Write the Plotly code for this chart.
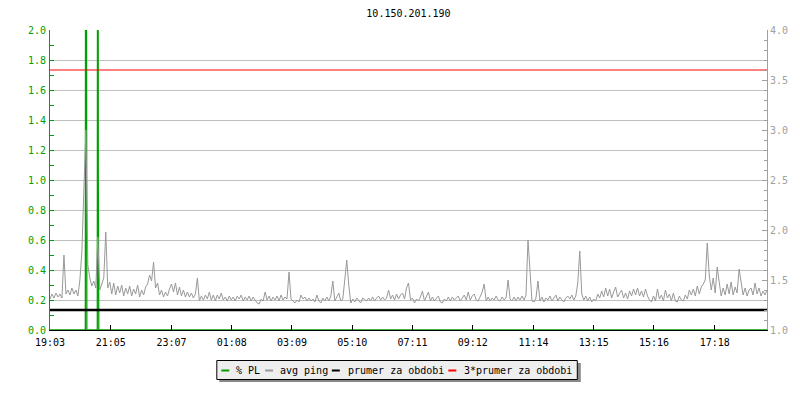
import plotly.graph_objects as go

# ---------------- data ----------------
title_text = "10.150.201.190"
start_label = "19:03"
sample_step_min = 4  # minutes between avg ping samples
span_min = 1440

tick_labels = ["19:03", "21:05", "23:07", "01:08", "03:09", "05:10",
               "07:11", "09:12", "11:14", "13:15", "15:16", "17:18"]

avg_ping = [
    1.31, 1.36, 1.32, 1.37, 1.33, 1.36, 1.32, 1.75, 1.36, 1.40,
    1.35, 1.42, 1.36, 1.40, 1.34, 1.50, 1.78, 2.45, 3.00, 1.65,
    1.52, 1.44, 1.49, 1.42, 1.93, 1.40, 1.47, 1.52, 1.98, 1.42,
    1.48, 1.36, 1.47, 1.35, 1.44, 1.37, 1.45, 1.34, 1.42, 1.36,
    1.44, 1.34, 1.41, 1.36, 1.45, 1.33, 1.40, 1.35, 1.43, 1.46,
    1.55, 1.49, 1.68, 1.42, 1.47, 1.35, 1.40, 1.33, 1.38, 1.34,
    1.41, 1.46, 1.38, 1.47, 1.35, 1.43, 1.34, 1.40, 1.33, 1.38,
    1.33, 1.37, 1.32, 1.36, 1.52, 1.29, 1.34, 1.30, 1.35, 1.31,
    1.38, 1.30, 1.35, 1.29, 1.35, 1.31, 1.37, 1.30, 1.33, 1.29,
    1.34, 1.30, 1.33, 1.29, 1.34, 1.31, 1.35, 1.29, 1.33, 1.30,
    1.34, 1.29, 1.33, 1.30, 1.27, 1.26, 1.31, 1.29, 1.38, 1.30,
    1.34, 1.29, 1.33, 1.30, 1.34, 1.29, 1.35, 1.30, 1.33, 1.31,
    1.58, 1.31, 1.29, 1.27, 1.30, 1.28, 1.35, 1.31, 1.33, 1.29,
    1.32, 1.29, 1.31, 1.28, 1.35, 1.29, 1.27, 1.32, 1.29, 1.33,
    1.29, 1.34, 1.49, 1.29, 1.33, 1.37, 1.29, 1.31, 1.50, 1.70,
    1.45, 1.27, 1.31, 1.28, 1.32, 1.29, 1.27, 1.32, 1.30, 1.29,
    1.32, 1.29, 1.33, 1.29, 1.32, 1.34, 1.30, 1.33, 1.30, 1.32,
    1.40, 1.31, 1.35, 1.30, 1.36, 1.31, 1.35, 1.37, 1.31, 1.42,
    1.47, 1.30, 1.32, 1.27, 1.31, 1.29, 1.33, 1.39, 1.29, 1.33,
    1.38, 1.29, 1.33, 1.29, 1.32, 1.34, 1.28, 1.27, 1.31, 1.29,
    1.33, 1.29, 1.33, 1.30, 1.32, 1.34, 1.29, 1.32, 1.35, 1.30,
    1.38, 1.30, 1.34, 1.36, 1.30, 1.29, 1.33, 1.38, 1.46, 1.29,
    1.33, 1.29, 1.32, 1.30, 1.34, 1.30, 1.29, 1.33, 1.30, 1.32,
    1.50, 1.31, 1.29, 1.33, 1.29, 1.33, 1.30, 1.34, 1.30, 1.35,
    1.90, 1.55, 1.29, 1.28, 1.32, 1.49, 1.29, 1.33, 1.28, 1.32,
    1.30, 1.34, 1.29, 1.32, 1.35, 1.29, 1.33, 1.30, 1.28, 1.32,
    1.34, 1.31, 1.35, 1.30, 1.34, 1.47, 1.79, 1.36, 1.30, 1.34,
    1.29, 1.33, 1.28, 1.31, 1.29, 1.36, 1.32, 1.39, 1.33, 1.42,
    1.34, 1.41, 1.32, 1.38, 1.43, 1.33, 1.37, 1.40, 1.32, 1.37,
    1.31, 1.39, 1.34, 1.41, 1.35, 1.42, 1.34, 1.39, 1.33, 1.41,
    1.34, 1.30, 1.28, 1.34, 1.29, 1.41, 1.31, 1.35, 1.29, 1.40,
    1.32, 1.36, 1.29, 1.37, 1.29, 1.28, 1.34, 1.30, 1.29, 1.35,
    1.31, 1.40, 1.35, 1.41, 1.34, 1.44, 1.36, 1.43, 1.46, 1.50,
    1.87, 1.55, 1.40, 1.52, 1.37, 1.63, 1.48, 1.34, 1.42, 1.35,
    1.46, 1.36, 1.48, 1.35, 1.43, 1.37, 1.61, 1.45, 1.35, 1.42,
    1.34, 1.40, 1.42, 1.35, 1.47, 1.36, 1.42, 1.34, 1.39, 1.35,
    1.40,
]

# packet loss events (minutes after start, % PL)
pl_minutes = [0, 71, 72, 73, 74, 95, 96, 97, 98, 1440]
pl_values = [0, 0, 6, 1, 0, 0, 6, 1, 0, 0]

prumer = 1.2  # average for the period
series_names = ["% PL", "avg ping", "prumer za obdobi", "3*prumer za obdobi"]

# ---------------- styling ----------------
GREEN = "#00a000"
GRAY = "#999999"
AXGRAY = "#a0a0a0"
FONT = "DejaVu Sans Mono"


def to_min(label):
    h, m = map(int, label.split(":"))
    h0, m0 = map(int, start_label.split(":"))
    return ((h * 60 + m) - (h0 * 60 + m0)) % 1440


tick_vals = [to_min(t) for t in tick_labels]
ping_x = [i * sample_step_min for i in range(len(avg_ping))]

fig = go.Figure()
fig.add_trace(go.Scatter(x=pl_minutes, y=pl_values, mode="lines", name=series_names[0],
                         line=dict(color=GREEN, width=1.3), yaxis="y", showlegend=False,
                         hoverinfo="skip"))
fig.add_trace(go.Scatter(x=ping_x, y=avg_ping, mode="lines", name=series_names[1],
                         line=dict(color=GRAY, width=1), yaxis="y2", showlegend=False))
fig.add_trace(go.Scatter(x=[0, span_min], y=[prumer, prumer], mode="lines", name=series_names[2],
                         line=dict(color="black", width=2.5), yaxis="y2", showlegend=False))
fig.add_trace(go.Scatter(x=[0, span_min], y=[3 * prumer, 3 * prumer], mode="lines",
                         name=series_names[3], line=dict(color="red", width=1), yaxis="y2",
                         showlegend=False))

W, H = 800, 400
L, R, T, B = 50, 30, 30, 70
PW, PH = W - L - R, H - T - B


def px(xp):
    return (xp - L) / PW


def py(yp):
    return (H - B - yp) / PH


# manual legend (box with shadow)
shapes = [
    dict(type="rect", xref="paper", yref="paper", x0=px(220), x1=px(583), y0=py(382), y1=py(363),
         fillcolor="#888888", line=dict(width=0), layer="above"),
    dict(type="rect", xref="paper", yref="paper", x0=px(217.5), x1=px(579.5), y0=py(379.5), y1=py(360.5),
         fillcolor="#eeeeee", line=dict(color="black", width=1), layer="above"),
]
leg_colors = [GREEN, GRAY, "black", "red"]
leg_line_x = [222, 266, 333, 450]
leg_text_x = [235, 279, 347, 464]
annotations = []
for name, col, lx, tx in zip(series_names, leg_colors, leg_line_x, leg_text_x):
    shapes.append(dict(type="line", xref="paper", yref="paper", x0=px(lx), x1=px(lx + 8),
                       y0=py(370.5), y1=py(370.5), line=dict(color=col, width=2), layer="above"))
    annotations.append(dict(text=name, xref="paper", yref="paper", x=px(tx), y=py(370),
                            xanchor="left", yanchor="middle", showarrow=False,
                            font=dict(family=FONT, size=10, color="black")))

fig.update_layout(
    width=W, height=H,
    margin=dict(l=L, r=R, t=T, b=B, pad=0),
    paper_bgcolor="white", plot_bgcolor="white",
    title=dict(text=title_text, x=px(410), xref="paper", xanchor="center",
               y=1 - 13 / H, yanchor="middle",
               font=dict(family=FONT, size=10, color="black")),
    font=dict(family=FONT, size=10),
    showlegend=False,
    xaxis=dict(range=[0, span_min], tickvals=tick_vals, ticktext=tick_labels,
               showgrid=False, zeroline=False, showline=True, linecolor="black", linewidth=1,
               ticks="inside", ticklen=5, tickcolor="black", ticklabelstandoff=3,
               tickfont=dict(family=FONT, size=10, color="black")),
    yaxis=dict(range=[0, 2], dtick=0.2, tickformat=".1f", showgrid=True, gridcolor="#c0c0c0",
               zeroline=False, showline=True, linecolor=GREEN, linewidth=1,
               ticks="inside", ticklen=4, tickcolor=GREEN, ticklabelstandoff=1,
               minor=dict(dtick=0.1, ticks="inside", ticklen=4, tickcolor=GREEN, showgrid=False),
               tickfont=dict(family=FONT, size=10, color=GREEN)),
    yaxis2=dict(range=[1, 4], dtick=0.5, tickformat=".1f", overlaying="y", side="right",
                showgrid=False, zeroline=False, showline=True, linecolor=AXGRAY, linewidth=1,
                ticks="inside", ticklen=5, tickcolor=AXGRAY,
                minor=dict(dtick=0.1, ticks="inside", ticklen=3, tickcolor=AXGRAY, showgrid=False),
                tickfont=dict(family=FONT, size=10, color=AXGRAY)),
    shapes=shapes,
    annotations=annotations,
)

fig.write_html("out.html", config={"displayModeBar": False},
               post_script="document.body.style.margin='0';document.body.style.padding='0';")
